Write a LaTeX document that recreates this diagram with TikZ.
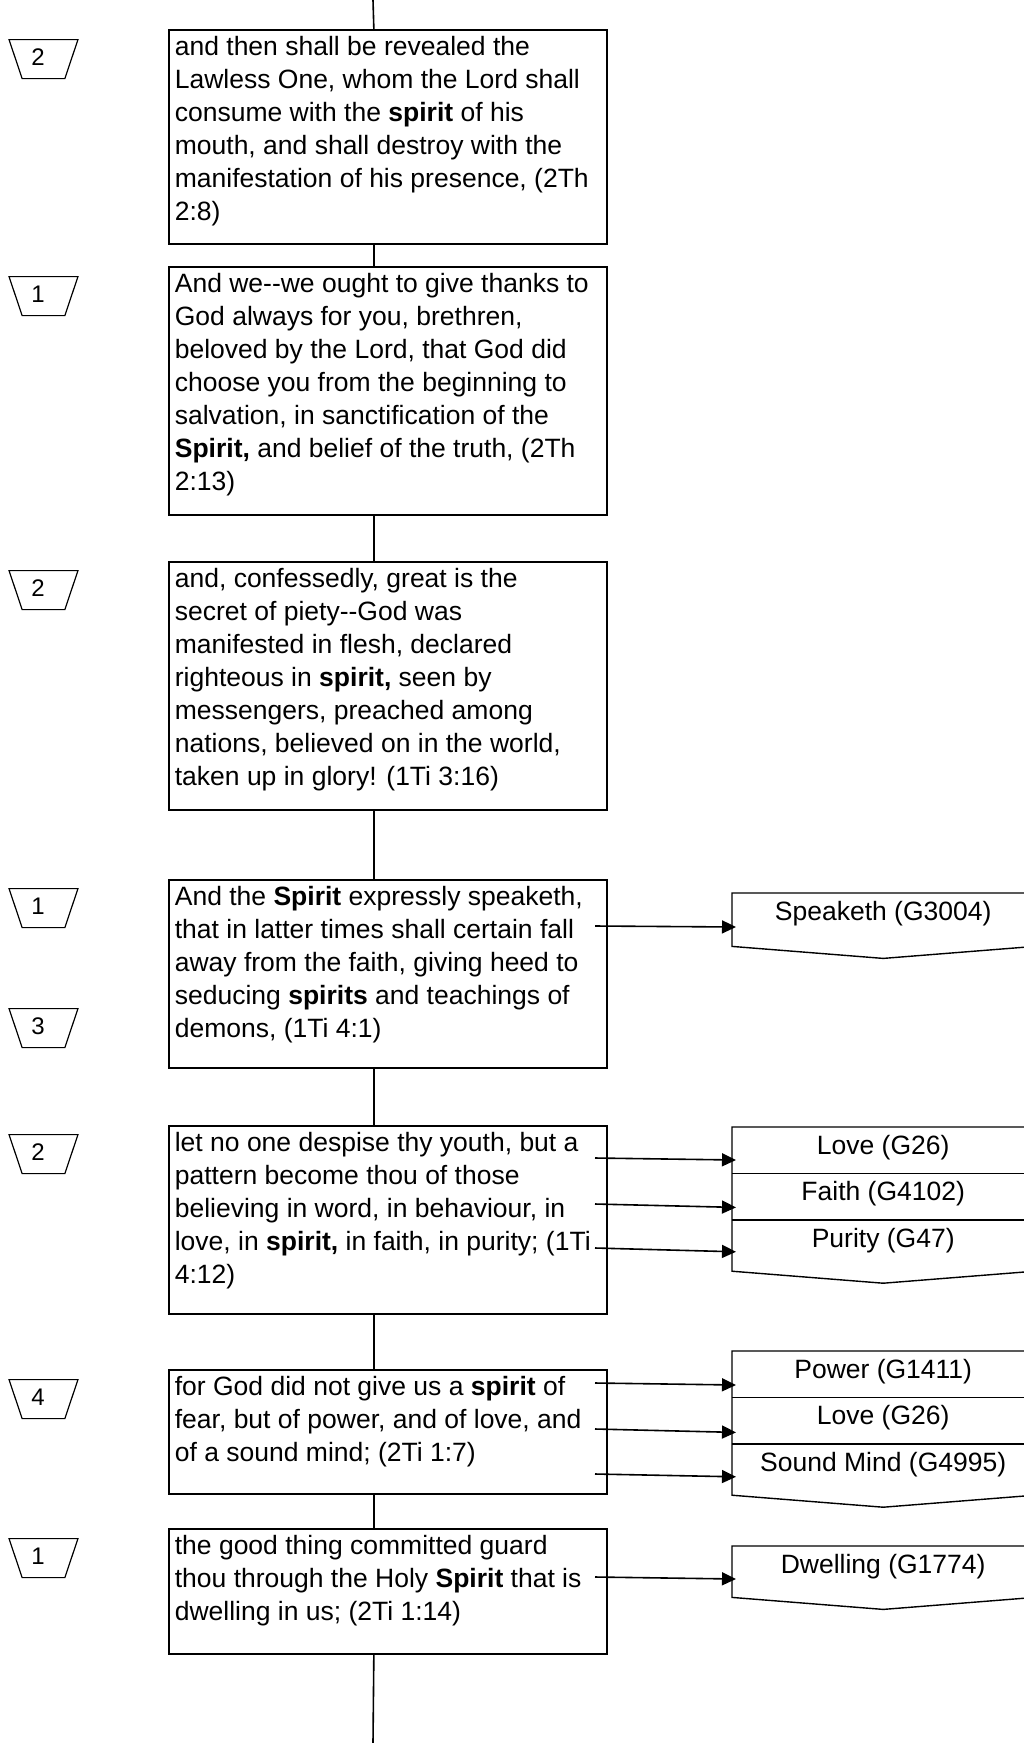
\documentclass[tikz,border=0pt]{standalone}
\usepackage{fontspec}
\setmainfont{Liberation Sans}
\usetikzlibrary{positioning,shapes.geometric,arrows.meta}

\newcommand{\verset}[2]{\parbox[t][#1][t]{426pt}{\raggedright\rule{0pt}{26pt}#2}}
\newcommand{\mot}[1]{\textbf{#1}}

\begin{document}
\begin{tikzpicture}[x=1pt,y=-1pt,
    every node/.style={font=\fontsize{26.5pt}{33pt}\selectfont},
    boite/.style={draw,line width=1.7pt,inner xsep=6pt,inner ysep=0pt,anchor=north west},
    badge/.style={draw,line width=1.2pt,trapezium,trapezium left angle=108.4,
        trapezium right angle=108.4,trapezium stretches=true,minimum width=69pt,
        minimum height=39pt,inner sep=1pt,text width=24pt,align=left,anchor=north,
        text height=17pt,text depth=5pt,font=\fontsize{24pt}{28pt}\selectfont},
    ligne/.style={line width=1.6pt},
    fleche/.style={->,>={Triangle[length=14pt,width=13pt]},line width=1.6pt},
    rang/.style={minimum width=302pt,inner sep=0pt,text height=27pt,text depth=19pt,anchor=north west},
    doc/.style={line width=1.4pt}]
    \clip (0,0) rectangle (1024,1743);
    \fill[white] (0,0) rectangle (1024,1743);

    % Versets
    \node[boite] (b1) at (168,29) {\verset{214pt}{and then shall be revealed the\\
        Lawless One, whom the Lord shall\\
        consume with the \mot{spirit} of his\\
        mouth, and shall destroy with the\\
        manifestation of his presence, (2Th\\
        2:8)}};
    \node[boite] (b2) at (168,266) {\verset{248pt}{And we-{}-we ought to give thanks to\\
        God always for you, brethren,\\
        beloved by the Lord, that God did\\
        choose you from the beginning to\\
        salvation, in sanctification of the\\
        \mot{Spirit,} and belief of the truth, (2Th\\
        2:13)}};
    \node[boite] (b3) at (168,561) {\verset{248pt}{and, confessedly, great is the\\
        secret of piety-{}-God was\\
        manifested in flesh, declared\\
        righteous in \mot{spirit,} seen by\\
        messengers, preached among\\
        nations, believed on in the world,\\
        taken up in glory! (1Ti 3:16)}};
    \node[boite] (b4) at (168,879) {\verset{188pt}{And the \mot{Spirit} expressly speaketh,\\
        that in latter times shall certain fall\\
        away from the faith, giving heed to\\
        seducing \mot{spirits} and teachings of\\
        demons, (1Ti 4:1)}};
    \node[boite] (b5) at (168,1125) {\verset{188pt}{let no one despise thy youth, but a\\
        pattern become thou of those\\
        believing in word, in behaviour, in\\
        love, in \mot{spirit,} in faith, in purity; (1Ti\\
        4:12)}};
    \node[boite] (b6) at (168,1369) {\verset{124pt}{for God did not give us a \mot{spirit} of\\
        fear, but of power, and of love, and\\
        of a sound mind; (2Ti 1:7)}};
    \node[boite] (b7) at (168,1528) {\verset{125pt}{the good thing committed guard\\
        thou through the Holy \mot{Spirit} that is\\
        dwelling in us; (2Ti 1:14)}};

    % Axe vertical
    \coordinate (haut) at (373,0);
    \coordinate (bas) at (373,1743);
    \draw[ligne] (haut) -- ([xshift=-14pt]b1.north);
    \draw[ligne] ([xshift=-14pt]b1.south) -- ([xshift=-14pt]b2.north);
    \draw[ligne] ([xshift=-14pt]b2.south) -- ([xshift=-14pt]b3.north);
    \draw[ligne] ([xshift=-14pt]b3.south) -- ([xshift=-14pt]b4.north);
    \draw[ligne] ([xshift=-14pt]b4.south) -- ([xshift=-14pt]b5.north);
    \draw[ligne] ([xshift=-14pt]b5.south) -- ([xshift=-14pt]b6.north);
    \draw[ligne] ([xshift=-14pt]b6.south) -- ([xshift=-14pt]b7.north);
    \draw[ligne] ([xshift=-14pt]b7.south) -- (bas);

    % Compteurs
    \node[badge] (n1) at (43.5,39) {2};
    \node[badge] (n2) at (43.5,276) {1};
    \node[badge] (n3) at (43.5,570) {2};
    \node[badge] (n4) at (43.5,888) {1};
    \node[badge] (n5) at (43.5,1008) {3};
    \node[badge] (n6) at (43.5,1134) {2};
    \node[badge] (n7) at (43.5,1379) {4};
    \node[badge] (n8) at (43.5,1538) {1};

    % Mots grecs
    \node[rang,text depth=26pt] (parle) at (732,893) {Speaketh (G3004)};
    \draw[doc] (parle.north east) -- (parle.north west) -- (parle.south west)
        -- ([yshift=-12pt]parle.south) -- (parle.south east) -- cycle;

    \node[rang] (amour) at (732,1127) {Love (G26)};
    \node[rang,below=0pt of amour] (foi) {Faith (G4102)};
    \node[rang,below=0pt of foi,text depth=24pt] (purete) {Purity (G47)};
    \draw[doc] (amour.north east) -- (amour.north west) -- (purete.south west)
        -- ([yshift=-12pt]purete.south) -- (purete.south east) -- cycle;
    \draw[doc] (amour.south west) -- (amour.south east) (foi.south west) -- (foi.south east);

    \node[rang] (force) at (732,1351) {Power (G1411)};
    \node[rang,below=0pt of force] (amour2) {Love (G26)};
    \node[rang,below=0pt of amour2,text depth=24pt] (sagesse) {Sound Mind (G4995)};
    \draw[doc] (force.north east) -- (force.north west) -- (sagesse.south west)
        -- ([yshift=-12pt]sagesse.south) -- (sagesse.south east) -- cycle;
    \draw[doc] (force.south west) -- (force.south east) (amour2.south west) -- (amour2.south east);

    \node[rang,text depth=24pt] (habite) at (732,1546) {Dwelling (G1774)};
    \draw[doc] (habite.north east) -- (habite.north west) -- (habite.south west)
        -- ([yshift=-12pt]habite.south) -- (habite.south east) -- cycle;

    % Fleches
    \coordinate (d4) at (595,926);
    \coordinate (d5a) at (595,1158);
    \coordinate (d5b) at (595,1204);
    \coordinate (d5c) at (595,1248);
    \coordinate (d6a) at (595,1383);
    \coordinate (d6b) at (595,1429);
    \coordinate (d6c) at (595,1474);
    \coordinate (d7) at (595,1577);
    \draw[fleche] (d4) -- ([yshift=-34pt,xshift=4pt]parle.north west);
    \draw[fleche] (d5a) -- ([yshift=-33pt,xshift=4pt]amour.north west);
    \draw[fleche] (d5b) -- ([yshift=-34pt,xshift=4pt]foi.north west);
    \draw[fleche] (d5c) -- ([yshift=-32pt,xshift=4pt]purete.north west);
    \draw[fleche] (d6a) -- ([yshift=-34pt,xshift=4pt]force.north west);
    \draw[fleche] (d6b) -- ([yshift=-35pt,xshift=4pt]amour2.north west);
    \draw[fleche] (d6c) -- ([yshift=-33pt,xshift=4pt]sagesse.north west);
    \draw[fleche] (d7) -- ([yshift=-33pt,xshift=4pt]habite.north west);
\end{tikzpicture}
\end{document}
